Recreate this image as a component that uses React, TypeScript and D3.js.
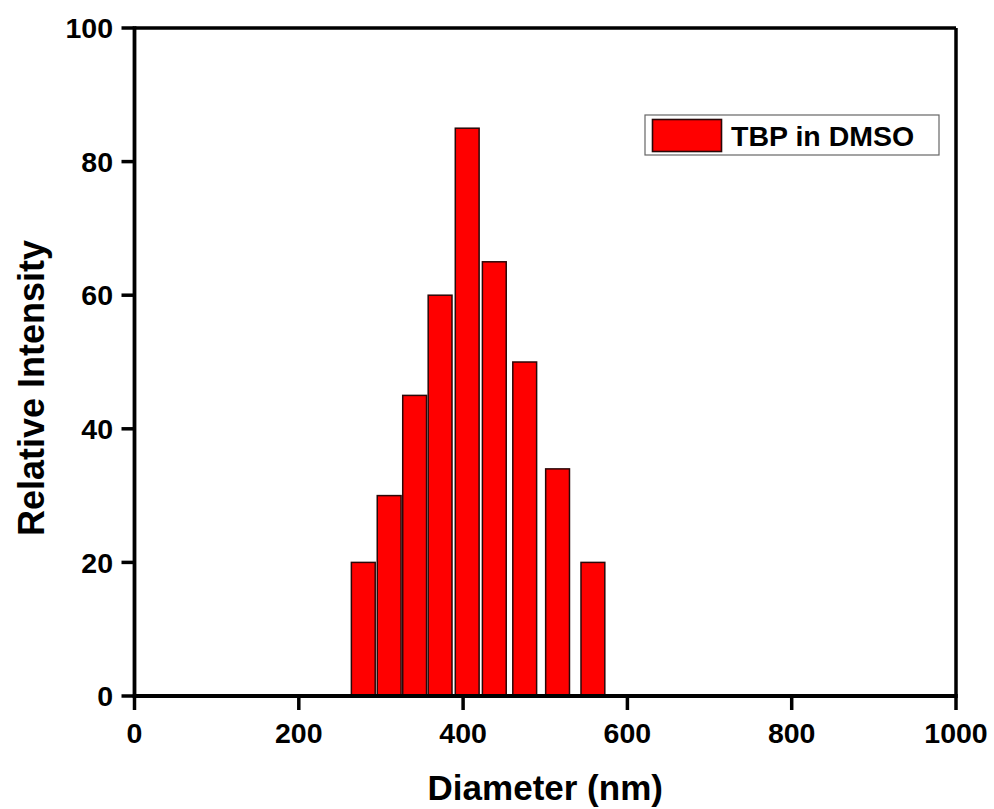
import React from "react";
import * as d3 from "d3";

const diameters = [278.5, 310, 341, 372, 405, 438, 475, 515, 558];
const intensities = [20, 30, 45, 60, 85, 65, 50, 34, 20];
const binWidth = 29;
const xTicks = [0, 200, 400, 600, 800, 1000];
const yTicks = [0, 20, 40, 60, 80, 100];
const seriesName = "TBP in DMSO";
const xLabel = "Diameter (nm)";
const yLabel = "Relative Intensity";

const W = 994;
const H = 809;
const FONT = "'Liberation Sans', Arial, sans-serif";

export default function App() {
  const x = d3.scaleLinear().domain([0, 1000]).range([134.5, 956]);
  const y = d3.scaleLinear().domain([0, 100]).range([696, 28]);
  const [x0, x1] = x.range();
  const [yb, yt] = y.range();

  return (
    <svg
      width={W}
      height={H}
      style={{ position: "absolute", left: 0, top: 0, background: "#fff" }}
      fontFamily={FONT}
      fontWeight="bold"
    >
      <rect x={0} y={0} width={W} height={H} fill="#fff" />
      {diameters.map((d, i) => (
        <rect
          key={i}
          x={x(d - binWidth / 2)}
          y={y(intensities[i])}
          width={x(d + binWidth / 2) - x(d - binWidth / 2)}
          height={y(0) - y(intensities[i])}
          fill="#ff0000"
          stroke="#2a0808"
          strokeWidth={1.5}
        />
      ))}
      {/* frame */}
      <line x1={x0} x2={x1} y1={yt} y2={yt} stroke="#000" strokeWidth={3.5} />
      <line x1={x1} x2={x1} y1={yt} y2={yb} stroke="#000" strokeWidth={3.5} />
      <line x1={x0} x2={x0} y1={yt - 1.75} y2={yb + 1.75} stroke="#000" strokeWidth={3.8} />
      <line x1={x0 - 1.75} x2={x1 + 1.75} y1={yb} y2={yb} stroke="#000" strokeWidth={3.8} />
      {/* y ticks */}
      {yTicks.map((t) => (
        <g key={"y" + t}>
          <line x1={x0 - 13} x2={x0} y1={y(t)} y2={y(t)} stroke="#000" strokeWidth={3.5} />
          <text
            x={113}
            y={y(t)}
            dy="0.36em"
            textAnchor="end"
            fontSize={28.5}
            fill="#000"
          >
            {t}
          </text>
        </g>
      ))}
      {/* x ticks */}
      {xTicks.map((t) => (
        <g key={"x" + t}>
          <line x1={x(t)} x2={x(t)} y1={yb} y2={yb + 14} stroke="#000" strokeWidth={3.5} />
          <text x={x(t)} y={742.5} textAnchor="middle" fontSize={28.5} fill="#000">
            {t}
          </text>
        </g>
      ))}
      <text x={(x0 + x1) / 2} y={800} textAnchor="middle" fontSize={35} fill="#000">
        {xLabel}
      </text>
      <text
        transform={`translate(44, 388) rotate(-90)`}
        textAnchor="middle"
        fontSize={36}
        fill="#000"
      >
        {yLabel}
      </text>
      {/* legend */}
      <rect x={645} y={115} width={294} height={40} fill="#fff" stroke="#666" strokeWidth={1.2} />
      <rect x={652.5} y={119.5} width={69} height={32} fill="#ff0000" stroke="#2a0808" strokeWidth={1.6} />
      <text x={731} y={146} fontSize={28.5} fill="#000">
        {seriesName}
      </text>
    </svg>
  );
}
